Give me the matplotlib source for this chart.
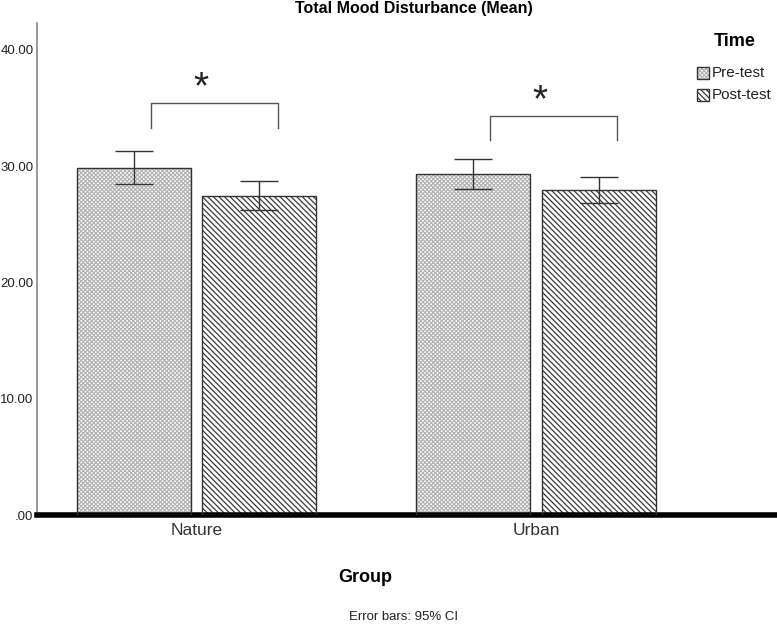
import matplotlib
matplotlib.use("Agg")
import matplotlib.pyplot as plt
import numpy as np

plt.rcParams['font.family'] = ['Liberation Sans', 'DejaVu Sans']
plt.rcParams['hatch.linewidth'] = 0.9

groups = ["Nature", "Urban"]
series = ["Pre-test", "Post-test"]
means = {"Pre-test": [29.8, 29.3], "Post-test": [27.4, 27.9]}
ci_low = {"Pre-test": [28.5, 28.0], "Post-test": [26.2, 26.8]}
ci_high = {"Pre-test": [31.3, 30.6], "Post-test": [28.7, 29.1]}
yticks = [0, 10, 20, 30, 40]
ytick_labels = [".00", "10.00", "20.00", "30.00", "40.00"]

fig = plt.figure(figsize=(7.77, 6.26), dpi=100)
ax = fig.add_axes([37/777, 111/626, 740/777, 492/626])

x = np.arange(len(groups))
w = 0.335
offs = [-0.185, 0.185]
hatches = ["xxxxxxxx", "\\\\\\\\\\\\"]
hcolors = ["#b4b4b4", "#3a3a3a"]
for s, off, h, hc in zip(series, offs, hatches, hcolors):
    m = np.array(means[s])
    ax.bar(x + off, m, width=w, color="white", edgecolor=hc, linewidth=0, hatch=h, zorder=2)
    ax.bar(x + off, m, width=w, fill=False, edgecolor="#333333", linewidth=1.0, zorder=3, label=None)
    lo = m - np.array(ci_low[s])
    hi = np.array(ci_high[s]) - m
    ax.errorbar(x + off, m, yerr=[lo, hi], fmt="none", ecolor="#333333", elinewidth=1.0,
                capsize=14, capthick=1.0, zorder=4)

# significance brackets
for i in range(len(groups)):
    top = max(ci_high["Pre-test"][i], ci_high["Post-test"][i])
    y0 = top + (2.0 if i == 0 else 1.6)
    yb = y0 + 2.1
    xl, xr = x[i] - 0.135, x[i] + 0.24
    ax.plot([xl, xl, xr, xr], [y0, yb, yb, y0], color="#555555", lw=1.0, zorder=4)
    ax.text((xl + xr) / 2 - 0.04, yb + 1.3, "*", ha="center", va="center", fontsize=28,
            fontweight="light", color="#222222")

ax.set_xlim(-0.47, 1.71)
ax.set_ylim(0, 42.3)
ax.set_yticks(yticks)
ax.set_yticklabels(ytick_labels, fontsize=9.5, color="#222222")
ax.set_xticks(x)
ax.set_xticklabels(groups, fontsize=12.5, color="#333333")
ax.tick_params(axis="y", length=0, pad=2.5)
ax.tick_params(axis="x", length=0, pad=6)
for sp in ["top", "right"]:
    ax.spines[sp].set_visible(False)
ax.spines["left"].set_color("#888888")
ax.spines["left"].set_linewidth(1.2)
ax.spines["bottom"].set_color("black")
ax.spines["bottom"].set_linewidth(4)

fig.text(414/777, 1 - 9/626, "Total Mood Disturbance (Mean)", ha="center", va="center",
         fontsize=11.5, fontweight="bold")
fig.text(365/777, 1 - 578/626, "Group", ha="center", va="center", fontsize=13, fontweight="bold")
fig.text(404/777, 1 - 617/626, "Error bars: 95% CI", ha="center", va="center", fontsize=9.5, color="#222222")

# legend
from matplotlib.patches import Rectangle
fig.text(735/777, 1 - 42/626, "Time", ha="center", va="center", fontsize=13, fontweight="bold")
ly = [73, 95]
for s, h, hc, yy in zip(series, hatches, hcolors, ly):
    fx, fy = 697/777, 1 - (yy + 6)/626
    fw, fh = 12/777, 12/626
    fig.patches.append(Rectangle((fx, fy), fw, fh, transform=fig.transFigure, facecolor="white",
                                 edgecolor=hc, linewidth=0, hatch=h, figure=fig))
    fig.patches.append(Rectangle((fx, fy), fw, fh, transform=fig.transFigure, fill=False,
                                 edgecolor="#333333", linewidth=1.0, figure=fig))
    fig.text(712/777, 1 - yy/626, s, ha="left", va="center", fontsize=11, color="#222222")

fig.savefig("out.png", dpi=100)
